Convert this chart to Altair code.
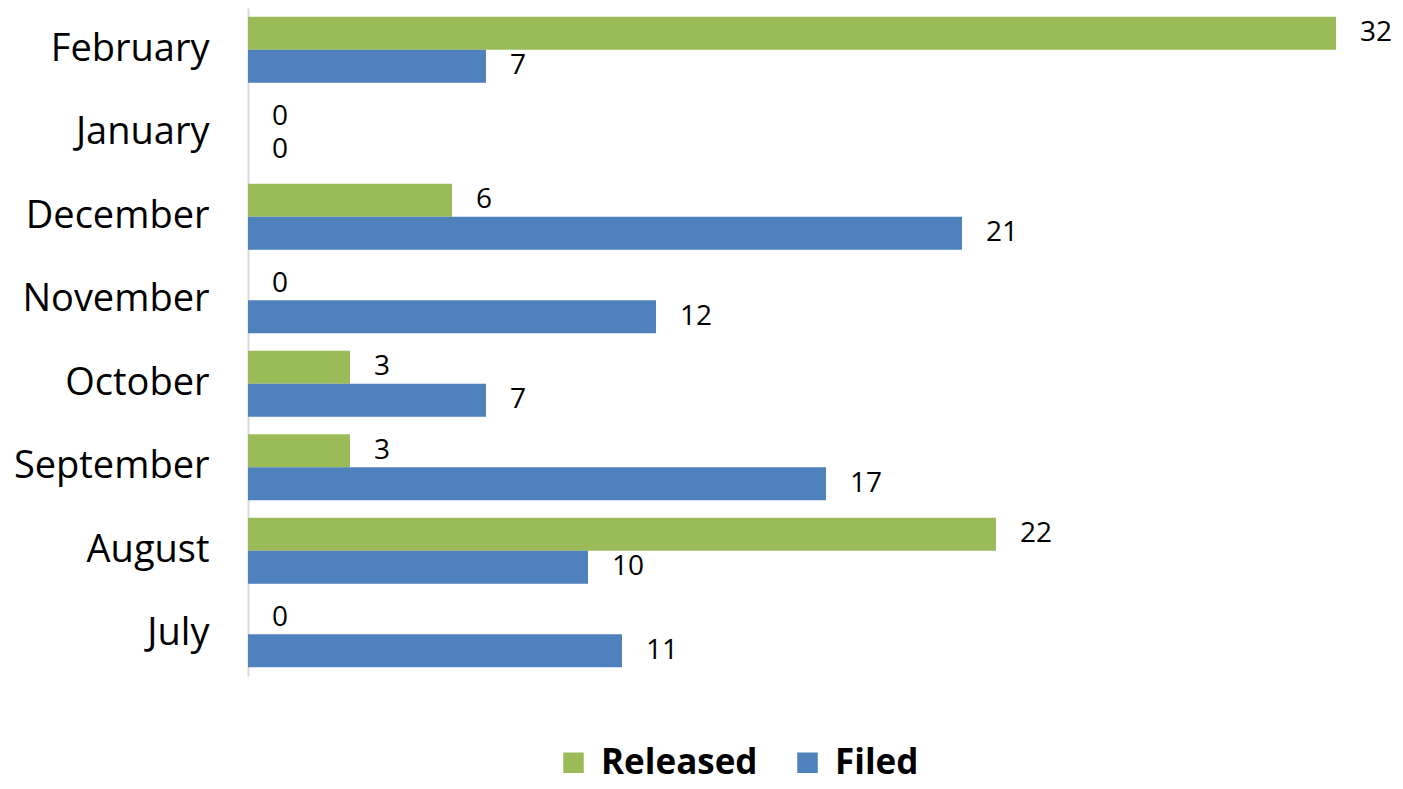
import altair as alt
import pandas as pd

months = ["February", "January", "December", "November", "October", "September", "August", "July"]
released = [32, 0, 6, 0, 3, 3, 22, 0]
filed = [7, 0, 21, 12, 7, 17, 10, 11]
series = ["Released", "Filed"]
colors = ["#9BBB59", "#4F81BD"]

rows = []
for m, r, f in zip(months, released, filed):
    rows.append({"month": m, "series": "Released", "value": r})
    rows.append({"month": m, "series": "Filed", "value": f})
df = pd.DataFrame(rows)

FONT = "Open Sans"

y_enc = alt.Y("month:N", sort=months, title=None,
              scale=alt.Scale(paddingInner=0.21, paddingOuter=0.105),
              axis=alt.Axis(domainColor="#D9D9D9", domainWidth=2, ticks=False,
                            labelFontSize=38, labelFont=FONT, labelColor="#000000",
                            labelPadding=39, grid=False, labelLimit=400))
x_enc = alt.X("value:Q", title=None, axis=None,
              scale=alt.Scale(domain=[0, 32], nice=False, zero=True))
yoff = alt.YOffset("series:N", sort=series, scale=alt.Scale(paddingInner=0, paddingOuter=0))

base = alt.Chart(df)

bars = base.mark_bar(cornerRadius=0).encode(
    y=y_enc,
    x=x_enc,
    yOffset=yoff,
    color=alt.Color("series:N", sort=series, title=None,
                    scale=alt.Scale(domain=series, range=colors),
                    legend=alt.Legend(orient="none", direction="horizontal",
                                      legendX=308, legendY=737,
                                      symbolType="square", symbolSize=420,
                                      symbolStrokeWidth=0, symbolOpacity=1,
                                      labelFontSize=35, labelFont=FONT,
                                      labelFontWeight="bold", labelColor="#000000",
                                      labelOffset=10, columnPadding=32,
                                      padding=0, labelLimit=400)),
)

labels = base.mark_text(align="left", baseline="middle", dx=24, fontSize=28,
                        font=FONT, color="#000000").encode(
    y=alt.Y("month:N", sort=months),
    x=alt.X("value:Q"),
    yOffset=yoff,
    text=alt.Text("value:Q"),
)

chart = alt.layer(bars, labels).properties(
    width=1088, height=668,
    background="#FFFFFF",
    autosize=alt.AutoSizeParams(type="none"),
    padding={"left": 240, "top": 0, "right": 59, "bottom": 112},
).configure_view(stroke="transparent", strokeWidth=0)

chart.save("out.html", embed_options={"renderer": "svg", "actions": False})
